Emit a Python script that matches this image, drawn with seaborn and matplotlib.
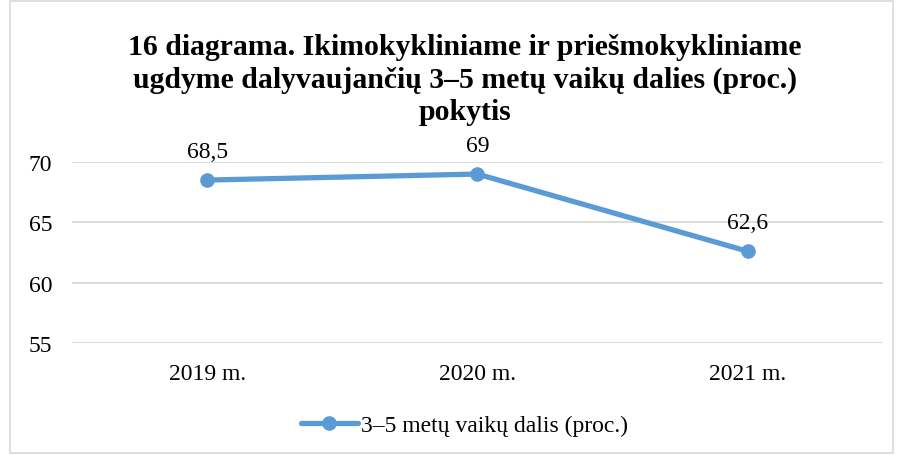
import numpy as np
import pandas as pd
import matplotlib
matplotlib.use("Agg")
import matplotlib.pyplot as plt
import seaborn as sns
from matplotlib.patches import Rectangle

years = ["2019 m.", "2020 m.", "2021 m."]
values = [68.5, 69, 62.6]
labels = ["68,5", "69", "62,6"]
series_name = "3–5 metų vaikų dalis (proc.)"
title = ("16 diagrama. Ikimokykliniame ir priešmokykliniame\n"
         "ugdyme dalyvaujančių 3–5 metų vaikų dalies (proc.)\n"
         "pokytis")

df = pd.DataFrame({"year": years, "value": values, "series": series_name})

sns.set_style("white")
plt.rcParams["font.family"] = ["Liberation Serif", "DejaVu Serif"]
plt.rcParams["text.color"] = "black"

blue = "#5B9BD5"
fig = plt.figure(figsize=(8.99, 4.56), dpi=100)
ax = fig.add_axes([0.080, 0.2456, 0.902, 0.397])

sns.lineplot(data=df, x="year", y="value", hue="series", palette=[blue],
             sort=False, marker="o", markersize=10.5, markeredgewidth=0,
             linewidth=3.8, ax=ax)

ax.set_xlim(-0.5, 2.5)
ax.set_ylim(55, 70)
ax.set_yticks([55, 60, 65, 70])
ax.grid(axis="y", color="#d9d9d9", linewidth=1.3)
ax.set_axisbelow(True)
for s in ax.spines.values():
    s.set_visible(False)
ax.tick_params(axis="both", length=0, labelsize=17, colors="black")
ax.tick_params(axis="x", pad=14.5)
ax.tick_params(axis="y", pad=14)
ax.set_xlabel("")
ax.set_ylabel("")

for i, (v, t) in enumerate(zip(values, labels)):
    ax.annotate(t, (i, v), xytext=(0, 13), textcoords="offset points",
                ha="center", va="bottom", fontsize=17, color="black")

fig.text(0.517, 0.8246, title, fontsize=21.4, fontweight="bold", ha="center",
         va="center", linespacing=1.27, color="black")

leg = ax.legend(loc="center", bbox_to_anchor=(0.484, -0.455), frameon=False,
                fontsize=17, handlelength=2.4, handletextpad=0.12)
for txt in leg.get_texts():
    txt.set_color("black")

fig.patches.append(Rectangle((0.011, 0.004), 0.982, 0.992, transform=fig.transFigure,
                             fill=False, edgecolor="#d9d9d9", linewidth=1.2))

fig.savefig("out.png", dpi=100)
